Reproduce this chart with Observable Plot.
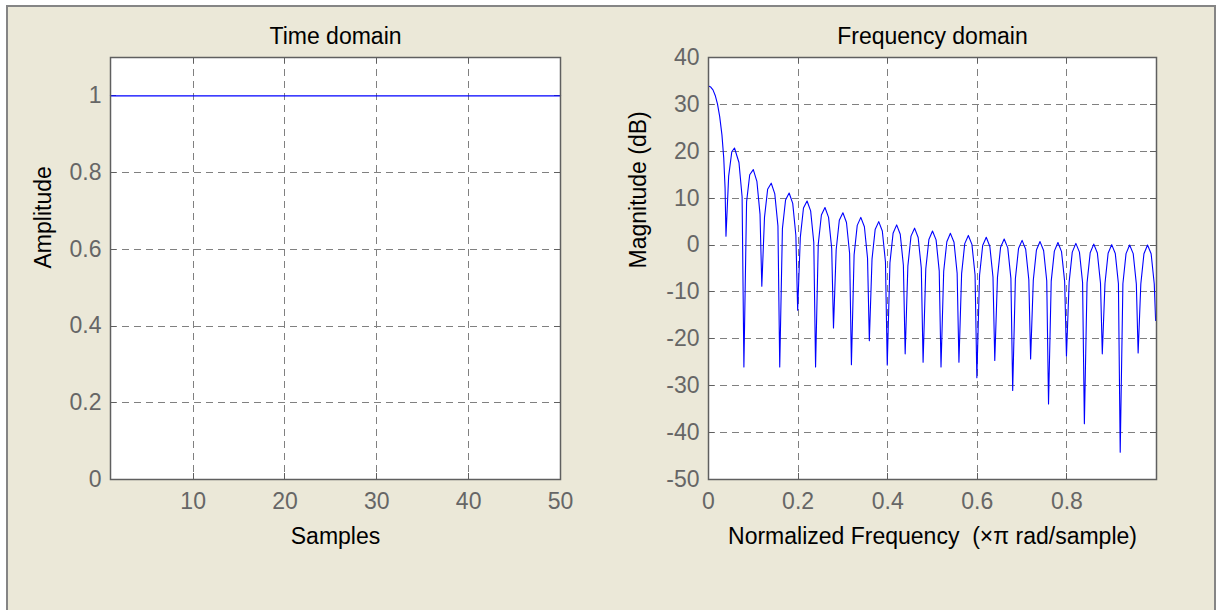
<!DOCTYPE html>
<html><head><meta charset="utf-8">
<script src="https://cdn.jsdelivr.net/npm/d3@7"></script>
<script src="https://cdn.jsdelivr.net/npm/@observablehq/plot@0.6"></script>
<style>
html,body{margin:0;padding:0;background:#fff;}
#fig{position:relative;width:1217px;height:610px;background:#fff;overflow:hidden;}
#panel{position:absolute;left:6px;top:5px;width:1206px;height:620px;background:#ebe8d8;border:2px solid #858585;border-bottom:none;}
#left,#right{position:absolute;top:0;}
#left{left:0px;}
#right{left:620px;}
</style></head><body>
<div id="fig"><div id="panel"></div><div id="left"></div><div id="right"></div></div>
<script>
// ---- Time domain data ----
const samples = [1,2,3,4,5,6,7,8,9,10,11,12,13,14,15,16,17,18,19,20,21,22,23,24,25,26,27,28,29,30,31,32,33,34,35,36,37,38,39,40,41,42,43,44,45,46,47,48,49,50];
const amplitude = [1,1,1,1,1,1,1,1,1,1,1,1,1,1,1,1,1,1,1,1,1,1,1,1,1,1,1,1,1,1,1,1,1,1,1,1,1,1,1,1,1,1,1,1,1,1,1,1,1,1];
const timeXTicks = [10,20,30,40,50];
const timeYTicks = [0,0.2,0.4,0.6,0.8,1];

// ---- Frequency domain data ----
const freq = [0,0.005,0.01,0.015,0.02,0.025,0.03,0.034,0.037,0.039,
0.045,0.052,0.058,0.068,0.075,0.079,
0.085,0.092,0.1,0.108,0.115,0.119,
0.125,0.132,0.14,0.148,0.155,0.159,
0.165,0.172,0.18,0.188,0.195,0.199,
0.205,0.212,0.22,0.228,0.235,0.239,
0.245,0.252,0.26,0.268,0.275,0.279,
0.285,0.292,0.3,0.308,0.315,0.319,
0.325,0.332,0.34,0.348,0.355,0.359,
0.365,0.372,0.38,0.388,0.395,0.399,
0.405,0.412,0.42,0.428,0.435,0.439,
0.445,0.452,0.46,0.468,0.475,0.479,
0.485,0.492,0.5,0.508,0.515,0.519,
0.525,0.532,0.54,0.548,0.555,0.559,
0.565,0.572,0.58,0.588,0.595,0.599,
0.605,0.612,0.62,0.628,0.635,0.639,
0.645,0.652,0.66,0.668,0.675,0.679,
0.685,0.692,0.7,0.708,0.715,0.719,
0.725,0.732,0.74,0.748,0.755,0.759,
0.765,0.772,0.78,0.788,0.795,0.799,
0.805,0.812,0.82,0.828,0.835,0.839,
0.845,0.852,0.86,0.868,0.875,0.879,
0.885,0.892,0.9,0.908,0.915,0.919,
0.925,0.932,0.94,0.948,0.955,0.959,
0.965,0.972,0.98,0.988,0.995,0.998];
const magDb = [33.9,33.7,33.1,31.9,30.1,27.4,23.5,18.6,12.1,1.9,
14.7,19.9,20.7,17.6,10.3,-26.0,
9.2,15.0,16.1,13.6,6.6,-8.8,
5.9,11.9,13.2,10.9,4.1,-26.0,
3.5,9.6,11.1,8.9,2.1,-13.9,
1.7,7.9,9.4,7.3,0.6,-26.0,
0.2,6.4,8.0,5.9,-0.7,-17.7,
-1.0,5.3,6.9,4.8,-1.8,-25.5,
-2.1,4.2,5.9,3.9,-2.8,-20.4,
-3.0,3.3,5.0,3.0,-3.6,-25.6,
-3.8,2.5,4.3,2.3,-4.3,-23.2,
-4.5,1.9,3.6,1.6,-4.9,-25.0,
-5.1,1.2,3.0,1.1,-5.5,-26.0,
-5.6,0.7,2.5,0.6,-6.0,-25.0,
-6.1,0.3,2.05,0.15,-6.4,-28.3,
-6.5,-0.1,1.65,-0.3,-6.8,-24.6,
-6.9,-0.45,1.3,-0.6,-7.1,-31.0,
-7.2,-0.75,1.0,-0.9,-7.4,-24.3,
-7.5,-1.05,0.74,-1.15,-7.6,-33.9,
-7.7,-1.3,0.53,-1.4,-7.8,-23.7,
-7.9,-1.5,0.35,-1.5,-8.0,-38.1,
-8.05,-1.64,0.2,-1.7,-8.15,-23.2,
-8.2,-1.75,0.09,-1.8,-8.25,-44.2,
-8.26,-1.82,0.02,-1.83,-8.3,-23.0,
-8.3,-1.84,0.0,-1.84,-8.3,-16.1];
const freqXTicks = [0,0.2,0.4,0.6,0.8];
const freqYTicks = [-50,-40,-30,-20,-10,0,10,20,30,40];

const titles = ["Time domain", "Frequency domain"];
const xLabels = ["Samples", "Normalized Frequency  (\u00d7\u03c0 rad/sample)"];
const yLabels = ["Amplitude", "Magnitude (dB)"];

const timeData = samples.map((s, i) => ({s, a: amplitude[i]}));
const freqData = freq.map((f, i) => ({f, m: magDb[i]}));

const FONT = "'Liberation Sans', Arial, Helvetica, sans-serif";
const FS = 23;
const GRID = {stroke: "#808080", strokeOpacity: 1, strokeWidth: 1, strokeDasharray: "7,5", shapeRendering: "crispEdges"};
const FRAME = "#5f5f5f";

function panel({data, x, y, xDomain, yDomain, xTicks, yTicks, gridYTicks, width, mLeft, mRight, title, xLabel, yLabel, yLabelDx, lineWidth}) {
  const mTop = 57, mBottom = 131, height = 610;
  const fw = width - mLeft - mRight, fh = height - mTop - mBottom;
  return Plot.plot({
    width, height,
    marginLeft: mLeft, marginRight: mRight, marginTop: mTop, marginBottom: mBottom,
    style: {background: "transparent", fontFamily: FONT, fontSize: FS + "px", color: "#666", overflow: "visible"},
    x: {domain: xDomain},
    y: {domain: yDomain},
    marks: [
      Plot.frame({fill: "white", stroke: null}),
      Plot.gridX(xTicks, GRID),
      Plot.gridY(gridYTicks, GRID),
      Plot.tickY(yTicks, {y: d => d, insetRight: fw - 6, stroke: FRAME, shapeRendering: "crispEdges"}),
      Plot.tickY(yTicks, {y: d => d, insetLeft: fw - 6, stroke: FRAME, shapeRendering: "crispEdges"}),
      Plot.tickX(xTicks, {x: d => d, insetTop: fh - 6, stroke: FRAME, shapeRendering: "crispEdges"}),
      Plot.tickX(xTicks, {x: d => d, insetBottom: fh - 6, stroke: FRAME, shapeRendering: "crispEdges"}),
      Plot.line(data, {x, y, stroke: "#0000ff", strokeWidth: lineWidth}),
      Plot.frame({stroke: FRAME, strokeWidth: 1.5}),
      Plot.axisX(xTicks, {tickSize: 0, tickPadding: 13, tickFormat: d => String(d), label: null, fontSize: FS, fill: "#666"}),
      Plot.axisY(yTicks, {tickSize: 0, tickPadding: 9, tickFormat: d => String(d), label: null, fontSize: FS, fill: "#666"}),
      Plot.text([title], {text: d => d, frameAnchor: "top", lineAnchor: "bottom", dy: -14, fill: "black", fontSize: FS}),
      Plot.text([xLabel], {text: d => d, frameAnchor: "bottom", lineAnchor: "bottom", dy: 64, fill: "black", fontSize: FS}),
      Plot.text([yLabel], {text: d => d, frameAnchor: "left", lineAnchor: "middle", rotate: -90, dx: yLabelDx, fill: "black", fontSize: FS})
    ]
  });
}

document.getElementById("left").append(panel({
  data: timeData, x: "s", y: "a", xDomain: [1, 50], yDomain: [0, 1.1],
  xTicks: timeXTicks, yTicks: timeYTicks, gridYTicks: timeYTicks.filter(t => t < 1),
  width: 620, mLeft: 110, mRight: 60,
  title: titles[0], xLabel: xLabels[0], yLabel: yLabels[0], yLabelDx: -67, lineWidth: 1.4
}));
document.getElementById("right").append(panel({
  data: freqData, x: "f", y: "m", xDomain: [0, 1], yDomain: [-50, 40],
  xTicks: freqXTicks, yTicks: freqYTicks, gridYTicks: freqYTicks,
  width: 597, mLeft: 88, mRight: 61,
  title: titles[1], xLabel: xLabels[1], yLabel: yLabels[1], yLabelDx: -70, lineWidth: 1.1
}));
</script>
</body></html>
